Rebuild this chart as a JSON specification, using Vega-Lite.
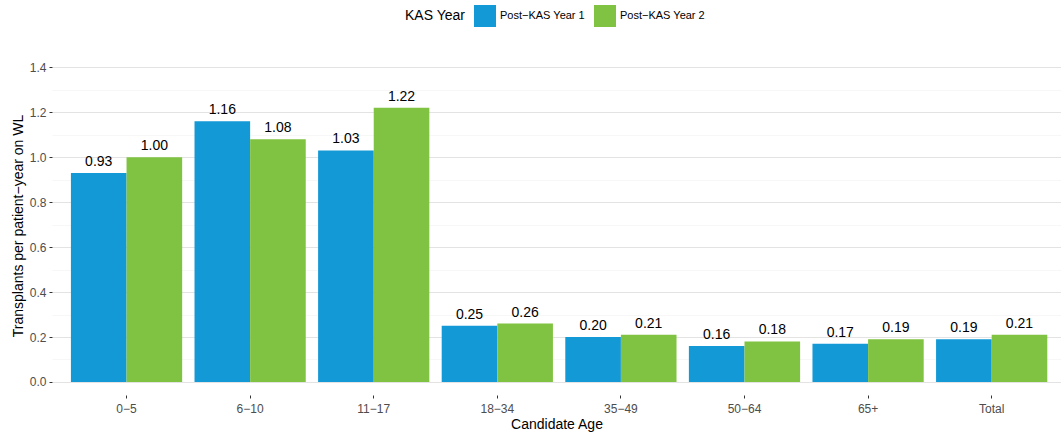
{
  "$schema": "https://vega.github.io/schema/vega-lite/v6.json",
  "width": 1009,
  "height": 339,
  "autosize": {"type": "none"},
  "padding": {"left": 52, "top": 56, "right": 0, "bottom": 39},
  "background": "white",
  "config": {
    "font": "Liberation Sans",
    "view": {"stroke": null},
    "axis": {"domain": false, "labelFont": "Liberation Sans", "titleFont": "Liberation Sans", "titleFontWeight": "normal", "titleColor": "#000000", "titleFontSize": 14, "labelFontSize": 12, "labelColor": "#4D4D4D", "tickColor": "#333333", "tickSize": 3}
  },
  "data": {
    "values": [
      {"age": "0−5", "year": "Post−KAS Year 1", "rate": 0.93},
      {"age": "0−5", "year": "Post−KAS Year 2", "rate": 1.00},
      {"age": "6−10", "year": "Post−KAS Year 1", "rate": 1.16},
      {"age": "6−10", "year": "Post−KAS Year 2", "rate": 1.08},
      {"age": "11−17", "year": "Post−KAS Year 1", "rate": 1.03},
      {"age": "11−17", "year": "Post−KAS Year 2", "rate": 1.22},
      {"age": "18−34", "year": "Post−KAS Year 1", "rate": 0.25},
      {"age": "18−34", "year": "Post−KAS Year 2", "rate": 0.26},
      {"age": "35−49", "year": "Post−KAS Year 1", "rate": 0.20},
      {"age": "35−49", "year": "Post−KAS Year 2", "rate": 0.21},
      {"age": "50−64", "year": "Post−KAS Year 1", "rate": 0.16},
      {"age": "50−64", "year": "Post−KAS Year 2", "rate": 0.18},
      {"age": "65+", "year": "Post−KAS Year 1", "rate": 0.17},
      {"age": "65+", "year": "Post−KAS Year 2", "rate": 0.19},
      {"age": "Total", "year": "Post−KAS Year 1", "rate": 0.19},
      {"age": "Total", "year": "Post−KAS Year 2", "rate": 0.21}
    ]
  },
  "encoding": {
    "x": {
      "field": "age", "type": "nominal",
      "sort": ["0−5", "6−10", "11−17", "18−34", "35−49", "50−64", "65+", "Total"],
      "scale": {"paddingInner": 0.1, "paddingOuter": 0.132, "align": 0.58},
      "axis": {"title": "Candidate Age", "labelAngle": 0, "grid": false, "labelPadding": 5, "titlePadding": 3}
    },
    "xOffset": {"field": "year", "type": "nominal", "scale": {"paddingInner": 0, "paddingOuter": 0}},
    "y": {
      "field": "rate", "type": "quantitative",
      "scale": {"domain": [-0.058, 1.45], "nice": false, "zero": false},
      "axis": {
        "title": "Transplants per patient−year on WL",
        "values": [0, 0.1, 0.2, 0.3, 0.4, 0.5, 0.6, 0.7, 0.8, 0.9, 1.0, 1.1, 1.2, 1.3, 1.4],
        "labelExpr": "round(datum.value*10)%2==0 ? format(datum.value,'.1f') : ''",
        "grid": true,
        "gridColor": {"condition": {"test": "round(datum.value*10)%2==1", "value": "#F2F2F2"}, "value": "#E3E3E3"},
        "gridWidth": {"condition": {"test": "round(datum.value*10)%2==1", "value": 0.6}, "value": 1.1},
        "tickOpacity": {"condition": {"test": "round(datum.value*10)%2==1", "value": 0}, "value": 1},
        "labelPadding": 3,
        "titlePadding": 4
      }
    }
  },
  "layer": [
    {
      "mark": {"type": "bar"},
      "encoding": {
        "color": {
          "field": "year", "type": "nominal",
          "scale": {"domain": ["Post−KAS Year 1", "Post−KAS Year 2"], "range": ["#1399D6", "#80C342"]},
          "legend": {
            "title": "KAS Year",
            "orient": "none",
            "legendX": 353,
            "legendY": -51,
            "direction": "horizontal",
            "titleOrient": "left",
            "titleFontSize": 14,
            "titleFontWeight": "normal",
            "titleColor": "#000000",
            "titleFont": "Liberation Sans",
            "titleBaseline": "middle",
            "titlePadding": 8,
            "labelFontSize": 11,
            "labelColor": "#000000",
            "labelFont": "Liberation Sans",
            "labelOffset": 4,
            "symbolType": "square",
            "symbolSize": 484,
            "symbolStrokeWidth": 0,
            "symbolOpacity": 1,
            "columnPadding": 9
          }
        }
      }
    },
    {
      "mark": {"type": "text", "baseline": "bottom", "dy": -4, "fontSize": 14, "color": "#000000", "font": "Liberation Sans"},
      "encoding": {"text": {"field": "rate", "type": "quantitative", "format": ".2f"}}
    }
  ]
}
